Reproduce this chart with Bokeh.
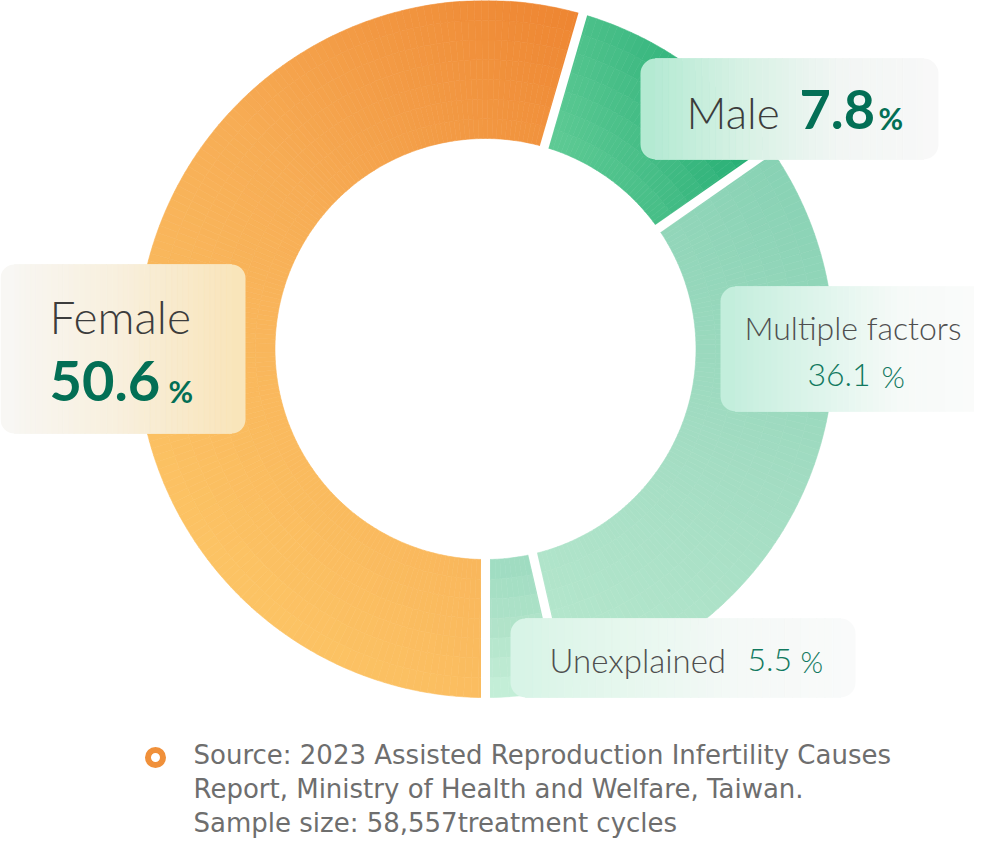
import numpy as np
from bokeh.plotting import figure
from bokeh.models import Range1d
from bokeh.core.properties import value
from bokeh.embed import file_html
from bokeh.resources import INLINE

# ---------------- data ----------------
categories = ["Female", "Male", "Multiple factors", "Unexplained"]
label_values = [50.6, 7.8, 36.1, 5.5]
# share of the ring each slice occupies, as drawn in the picture (%)
arc_share = [54.5, 10.8, 31.1, 3.6]
source_lines = [
    "Source: 2023 Assisted Reproduction Infertility Causes",
    "Report, Ministry of Health and Welfare, Taiwan.",
    "Sample size: 58,557treatment cycles",
]

# ---------------- styles ----------------
H = 854  # reference page height, used to flip y
CX, CY = 485, H - 348.5
R_OUT, R_IN = 348.5, 210.5
START_CW = 180.0  # slices start at 6 o'clock and run clockwise
BASE_FIX = 0.37   # empirical baseline correction (fraction of font size)

slice_grad = [
    dict(d=(0.707, 0.707), stops=["#fcc364", "#f7ad55", "#ee8632"]),
    dict(d=(0.95, 0.3), stops=["#5fcb95", "#43bc85", "#22ad72"]),
    dict(d=(-0.45, -0.89), stops=["#88d2b4", "#a2dcc2", "#b7e8ce"]),
    dict(d=(0.0, -1.0), stops=["#9fdcc1", "#b0e3c9", "#c3eed7"]),
]

FONT_LIGHT = value("Lato Light")
FONT = value("Lato")
FONT_NOTE = value("DejaVu Sans")
GREY = "#3c3c3c"
GREY2 = "#4f4f4f"
GREEN = "#036f55"
GREEN2 = "#12795f"


def hex2rgb(h):
    h = h.lstrip("#")
    return np.array([int(h[i:i + 2], 16) for i in (0, 2, 4)], dtype=float)


def grad_color(stops, t):
    t = min(max(t, 0.0), 1.0)
    n = len(stops) - 1
    k = min(int(t * n), n - 1)
    lt = t * n - k
    c = hex2rgb(stops[k]) * (1 - lt) + hex2rgb(stops[k + 1]) * lt
    return "#%02x%02x%02x" % tuple(int(round(v)) for v in c)


p = figure(width=974, height=838, x_range=Range1d(0, 974), y_range=Range1d(16, 854),
           output_backend="svg", toolbar_location=None, min_border=0,
           x_axis_type=None, y_axis_type=None)
p.grid.visible = False
p.outline_line_color = None
p.background_fill_color = "white"
p.border_fill_color = "white"

# ---------------- donut ----------------
shares = np.array(arc_share, dtype=float)
span = shares / shares.sum() * 360.0
starts = START_CW + np.concatenate([[0], np.cumsum(span)[:-1]])
ends = starts + span

n_rad = 7
rad_edges = np.linspace(R_IN, R_OUT, n_rad + 1)
for i in range(len(categories)):
    n_ang = max(int(span[i] / 1.2), 2)
    ang_edges = np.linspace(starts[i], ends[i], n_ang + 1)
    d = np.array(slice_grad[i]["d"], dtype=float)
    d = d / np.linalg.norm(d)
    mids_a = (ang_edges[:-1] + ang_edges[1:]) / 2
    mids_r = (rad_edges[:-1] + rad_edges[1:]) / 2
    A, RR = np.meshgrid(mids_a, mids_r)
    proj = RR * np.sin(np.radians(A)) * d[0] + RR * np.cos(np.radians(A)) * d[1]
    pmin, pmax = proj.min(), proj.max()
    xs, ys, ir, orr, sa, ea, cols = [], [], [], [], [], [], []
    for a in range(n_ang):
        for r in range(n_rad):
            t = (proj[r, a] - pmin) / (pmax - pmin)
            xs.append(CX)
            ys.append(CY)
            ir.append(rad_edges[r])
            orr.append(rad_edges[r + 1])
            # clockwise angle -> bokeh anticlockwise-from-east angle
            sa.append(np.radians(90 - ang_edges[a + 1]))
            ea.append(np.radians(90 - ang_edges[a]))
            cols.append(grad_color(slice_grad[i]["stops"], t))
    p.annular_wedge(x=xs, y=ys, inner_radius=ir, outer_radius=orr,
                    start_angle=sa, end_angle=ea, fill_color=cols,
                    line_color=cols, line_width=0.6)

# white gaps between slices
gap_angles = [np.radians(90 - s) for s in starts]
p.ray(x=[CX] * len(gap_angles), y=[CY] * len(gap_angles), length=R_OUT + 8,
      angle=gap_angles, line_color="white", line_width=9)


# ---------------- label boxes ----------------
def gradient_box(left, right, top_ref, bottom_ref, stops, radius, n=40):
    top, bottom = H - top_ref, H - bottom_ref
    width = right - left

    def col(x):
        return grad_color(stops, (x - left) / width)

    p.quad(left=[left], right=[left + radius + 1], top=[top], bottom=[bottom],
           fill_color=col(left + radius / 2), line_color=None,
           border_radius=(radius, 0, 0, radius))
    p.quad(left=[right - radius - 1], right=[right], top=[top], bottom=[bottom],
           fill_color=col(right - radius / 2), line_color=None,
           border_radius=(0, radius, radius, 0))
    edges = np.linspace(left + radius, right - radius, n + 1)
    cols = [col((edges[k] + edges[k + 1]) / 2) for k in range(n)]
    p.quad(left=edges[:-1], right=edges[1:], top=[top] * n, bottom=[bottom] * n,
           fill_color=cols, line_color=cols, line_width=0.8)


gradient_box(0, 245, 264, 433, ["#f8f7f5", "#f8efdc", "#f9e4b8"], 14)
gradient_box(640, 938, 58, 159, ["#b1e9d1", "#d6f1e4", "#f2f6f4", "#f8f8f8"], 15)
gradient_box(720, 990, 286, 411, ["#c1eddb", "#dcf4ea", "#f6faf8", "#fbfbfb"], 15)
gradient_box(510, 855, 618, 697, ["#d7f4e6", "#e6f7ee", "#f5f9f7", "#f9fafa"], 15)


def txt(x, y_ref, s, size, color, font=FONT, bold=False, align="left"):
    y_draw = y_ref - BASE_FIX * size
    p.text(x=[x], y=[H - y_draw], text=[s], text_font=font,
           text_font_size=value(f"{size}px"), text_color=color,
           text_font_style="bold" if bold else "normal",
           text_align=align, text_baseline="alphabetic")


def pct(v):
    return f"{v:.1f}"


# Female
txt(49, 333.3, categories[0], 46, GREY, font=FONT_LIGHT)
txt(49, 401.7, pct(label_values[0]), 56, GREEN, bold=True)
txt(168, 401.7, "%", 30, GREEN, bold=True)
# Male
txt(686, 127.7, categories[1], 44, GREY, font=FONT_LIGHT)
txt(799, 129, pct(label_values[1]), 54, GREEN, bold=True)
txt(878, 129, "%", 30, GREEN, bold=True)
# Multiple factors
txt(852.5, 339.3, categories[2], 32, GREY2, font=FONT_LIGHT, align="center")
txt(807, 386.7, pct(label_values[2]), 32, GREEN2, font=FONT_LIGHT)
txt(881, 386.7, "%", 30, GREEN2, font=FONT_LIGHT)
# Unexplained
txt(549, 671.7, categories[3], 33, GREY2, font=FONT_LIGHT)
txt(747, 671.7, pct(label_values[3]), 32, GREEN2, font=FONT_LIGHT)
txt(800, 671.7, "%", 29, GREEN2, font=FONT_LIGHT)

# ---------------- source note ----------------
p.scatter(x=[155], y=[H - 757], size=15, marker="circle", fill_color="white",
          line_color="#f0903a", line_width=6)
for k, line in enumerate(source_lines):
    txt(193, 764.5 + 34 * k, line, 26, "#6e6e6e", font=FONT_NOTE)

open("out.html", "w").write(file_html(p, INLINE))
